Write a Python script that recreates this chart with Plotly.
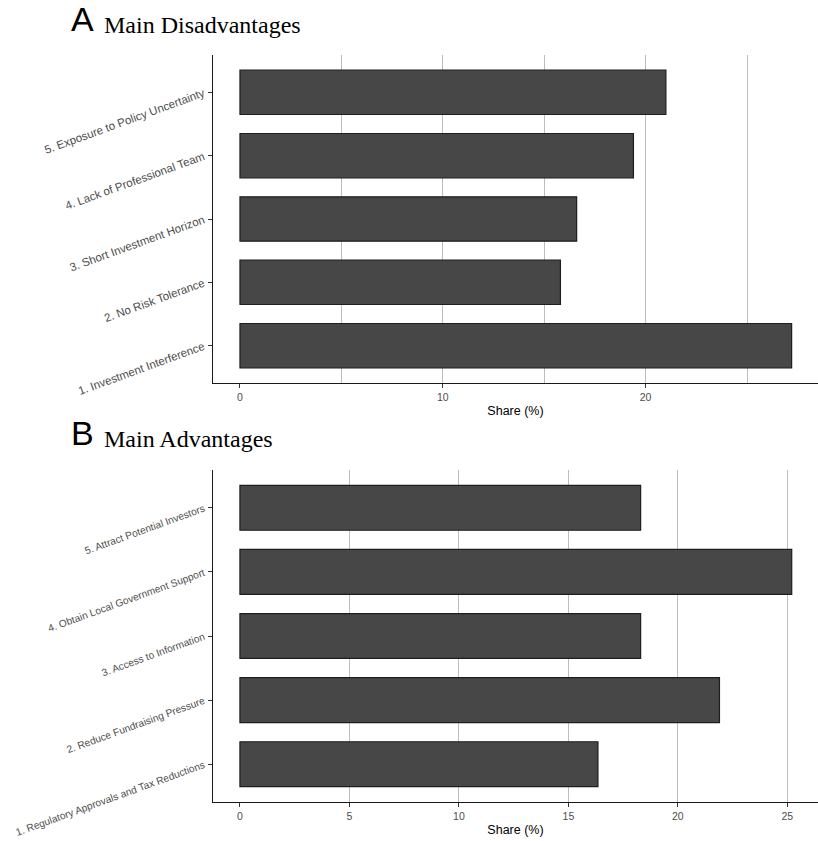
import plotly.graph_objects as go
from plotly.subplots import make_subplots

dis_labels = ["1. Investment Interference", "2. No Risk Tolerance", "3. Short Investment Horizon",
              "4. Lack of Professional Team", "5. Exposure to Policy Uncertainty"]
dis_values = [27.2, 15.8, 16.6, 19.4, 21.0]

adv_labels = ["1. Regulatory Approvals and Tax Reductions", "2. Reduce Fundraising Pressure",
              "3. Access to Information", "4. Obtain Local Government Support",
              "5. Attract Potential Investors"]
adv_values = [16.35, 21.9, 18.3, 25.2, 18.3]

dis_ticks = [0, 10, 20]
adv_ticks = [0, 5, 10, 15, 20, 25]
grid_vals = [5, 10, 15, 20, 25]

fig = make_subplots(rows=2, cols=1, vertical_spacing=0.1)

bar_style = dict(orientation="h", marker=dict(color="#474747", line=dict(color="#1e1e1e", width=1.2)),
                 showlegend=False, hoverinfo="skip")
fig.add_trace(go.Bar(x=dis_values, y=dis_labels, **bar_style), row=1, col=1)
fig.add_trace(go.Bar(x=adv_values, y=adv_labels, **bar_style), row=2, col=1)

H_TOP, H_BOT = 55, 39
ph = 841 - H_TOP - H_BOT
dA = [(802 - 383) / ph, 1.0]
dB = [0.0, (802 - 470) / ph]

xfont = dict(family="Liberation Sans, Arial", size=10.5, color="#4d4d4d")
yfontA = dict(family="Liberation Sans, Arial", size=11.5, color="#4d4d4d")
yfontB = dict(family="Liberation Sans, Arial", size=10.2, color="#4d4d4d")
xcommon = dict(showline=True, linecolor="#1a1a1a", linewidth=1.3, ticks="outside", ticklen=4,
               tickcolor="#333333", tickwidth=1, showgrid=False, zeroline=False, tickfont=xfont,
               automargin=False,
               title=dict(text="Share (%)", font=dict(family="Liberation Sans, Arial", size=12.5, color="black"),
                          standoff=4))
ycommon = dict(showline=True, linecolor="#1a1a1a", linewidth=1.3, ticks="outside", ticklen=4,
               tickcolor="#333333", tickwidth=1, showgrid=False, zeroline=False,
               automargin=False, tickangle=-20, range=[-0.59, 4.59], ticklabelstandoff=2)

fig.update_xaxes(**xcommon, range=[-1.33, 28.5], tickvals=dis_ticks, domain=[0, 1],
                 minor=dict(tickvals=grid_vals, showgrid=True, gridcolor="#bdbdbd", gridwidth=1.2, ticklen=0),
                 row=1, col=1)
fig.update_xaxes(**xcommon, range=[-1.23, 26.4], tickvals=adv_ticks, domain=[0, 1],
                 minor=dict(tickvals=grid_vals, showgrid=True, gridcolor="#bdbdbd", gridwidth=1.2, ticklen=0),
                 row=2, col=1)
fig.update_yaxes(**ycommon, tickfont=yfontA, domain=dA, row=1, col=1)
fig.update_yaxes(**ycommon, tickfont=yfontB, domain=dB, row=2, col=1)

def yp(pix):
    return (841 - H_BOT - pix) / ph

annos = []
for letter, title, base in [("A", "Main Disadvantages", 40), ("B", "Main Advantages", 454)]:
    annos.append(dict(text=letter, x=(69 - 213) / 605, y=yp(base), xref="paper", yref="paper",
                      xanchor="left", yanchor="bottom", showarrow=False,
                      font=dict(family="Liberation Sans, Arial", size=34, color="black")))
    annos.append(dict(text=title, x=(102 - 213) / 605, y=yp(base), xref="paper", yref="paper",
                      xanchor="left", yanchor="bottom", showarrow=False,
                      font=dict(family="Liberation Serif, Times New Roman", size=24, color="black")))

fig.update_layout(width=818, height=841, margin=dict(l=213, r=0, t=H_TOP, b=H_BOT, autoexpand=False),
                  plot_bgcolor="white", paper_bgcolor="white", bargap=0.3, annotations=annos)

fig.write_html("out.html", config={"displayModeBar": False},
               post_script="document.body.style.margin='0';document.body.style.overflow='hidden';")
